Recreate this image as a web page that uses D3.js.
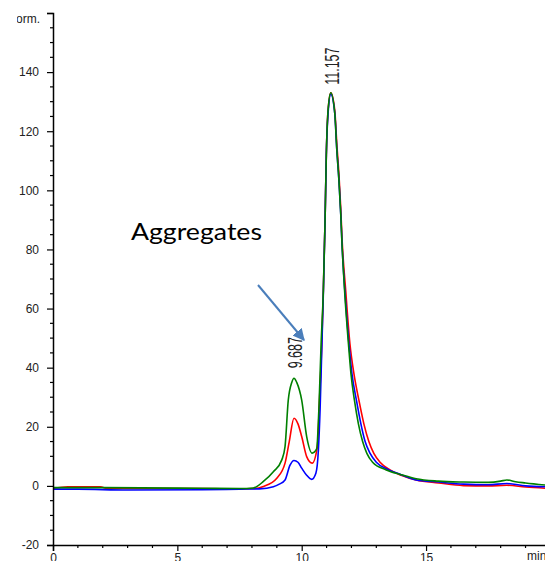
<!DOCTYPE html>
<html>
<head>
<meta charset="utf-8">
<script src="https://cdn.jsdelivr.net/npm/d3@7"></script>
<style>
  html, body { margin: 0; padding: 0; background: #fff; }
  svg { display: block; }
</style>
</head>
<body>
<svg id="chart" width="545" height="561"></svg>
<script>
// Retention time (min) and detector signal for each run
const blueTime = [0, 1.0, 3.0, 6.0, 7.5, 8.3, 8.86, 9.1, 9.33, 9.53, 9.69, 9.85, 10.0, 10.2, 10.4, 10.57, 10.67, 10.74, 10.80, 10.87, 10.94, 10.99, 11.06, 11.17, 11.33, 11.41, 11.50, 11.57, 11.62, 11.75, 11.90, 12.02, 12.20, 12.38, 12.55, 12.75, 13.0, 13.5, 14.0, 14.6, 15.5, 16.5, 17.5, 18.25, 19.0, 19.8];
const blueSignal = [-1.1, -1.1, -1.4, -1.3, -1.1, -1.0, -0.3, 0.6, 2.0, 7.0, 8.6, 8.0, 6.0, 3.6, 2.2, 4.3, 12, 26, 44, 65, 90, 112, 126, 132.5, 126, 114, 103, 92, 82, 64, 48, 38, 29, 21, 15, 11, 8.0, 5.4, 3.8, 2.0, 1.3, 0.6, 0.4, 0.8, 0.0, -0.3];

const redTime = [0, 0.6, 1.9, 2.2, 6.0, 7.5, 8.1, 8.46, 9.0, 9.33, 9.5, 9.69, 9.85, 10.0, 10.2, 10.42, 10.63, 10.72, 10.80, 10.87, 10.94, 10.99, 11.06, 11.17, 11.33, 11.41, 11.50, 11.57, 11.62, 11.77, 11.94, 12.10, 12.30, 12.50, 12.70, 12.90, 13.15, 13.55, 14.0, 14.6, 15.5, 16.5, 17.5, 18.25, 19.0, 19.8];
const redSignal = [-0.9, -0.3, -0.3, -0.9, -0.9, -1.0, -0.9, -0.2, 2.6, 7.7, 15, 22.9, 21, 16.7, 9.9, 7.7, 13.3, 30, 46, 66, 90, 112, 127, 133, 127, 116, 105, 94, 84, 66, 48, 38, 29, 21, 15, 11, 8.0, 5.4, 3.6, 2.0, 1.0, 0.1, 0.0, 0.2, -0.4, -0.8];

const greenTime = [0, 2.0, 6.0, 7.5, 8.05, 8.46, 8.86, 9.2, 9.33, 9.46, 9.6, 9.69, 9.8, 10.0, 10.2, 10.42, 10.6, 10.70, 10.78, 10.87, 10.94, 10.99, 11.06, 11.17, 11.33, 11.41, 11.50, 11.57, 11.62, 11.74, 11.88, 11.98, 12.12, 12.28, 12.45, 12.62, 12.85, 13.4, 14.0, 14.6, 15.5, 16.5, 17.5, 18.0, 18.25, 18.6, 19.0, 19.8];
const greenSignal = [-0.6, -0.6, -0.8, -0.9, -0.7, 1.5, 4.8, 8.8, 13.3, 29, 35, 36.4, 35, 29, 16.7, 11.1, 12.5, 28, 48, 66, 90, 112, 127, 133, 126, 114, 103, 92, 82, 64, 48, 38, 29, 21, 15, 11, 8.0, 5.4, 3.8, 2.4, 1.6, 1.3, 1.2, 1.6, 2.0, 1.4, 1.0, 0.3];

// Peak retention times labelled above the peaks
const peakLabels = ["9.687", "11.157"];
const peakTimes = [9.687, 11.157];
const peakHeights = [36.4, 133];

const xMajorTicks = [0, 5, 10, 15];
const yMajorTicks = [-20, 0, 20, 40, 60, 80, 100, 120, 140, 160];

const svg = d3.select("#chart");
const x = d3.scaleLinear().domain([0, 20]).range([53, 550.4]);
const y = d3.scaleLinear().domain([-20, 160]).range([545, 13]);

const axisFont = "'Liberation Sans', Arial, sans-serif";

svg.append("clipPath").attr("id", "plot")
  .append("rect").attr("x", 53).attr("y", 0).attr("width", 492).attr("height", 545);

// Traces
const line = d3.line()
  .x(d => x(d[0]))
  .y(d => y(d[1]))
  .curve(d3.curveMonotoneX);

const traces = [
  { color: "#ff0000", t: redTime, v: redSignal },
  { color: "#0000ff", t: blueTime, v: blueSignal },
  { color: "#008000", t: greenTime, v: greenSignal }
];

const g = svg.append("g").attr("clip-path", "url(#plot)");
traces.forEach(s => {
  g.append("path")
    .datum(d3.zip(s.t, s.v))
    .attr("fill", "none")
    .attr("stroke", s.color)
    .attr("stroke-width", 1.6)
    .attr("d", line);
});

// Y axis
const yAxis = d3.axisLeft(y)
  .tickValues(yMajorTicks)
  .tickSize(6)
  .tickPadding(8)
  .tickFormat(d => d === 160 ? "" : d);
const yg = svg.append("g").attr("transform", "translate(53,0)").call(yAxis);
yg.select(".domain").attr("stroke", "#000").attr("stroke-width", 1.5);
yg.selectAll("line").attr("stroke", "#000").attr("stroke-width", 1.2);
yg.selectAll("text").attr("font-family", axisFont).attr("font-size", 12).attr("fill", "#222");

const yMinor = d3.range(-15, 160, 5).filter(v => v % 20 !== 0);
svg.append("g").selectAll("line").data(yMinor).join("line")
  .attr("x1", 50).attr("x2", 53)
  .attr("y1", d => y(d)).attr("y2", d => y(d))
  .attr("stroke", "#000").attr("stroke-width", 1.2);

// X axis
const xAxis = d3.axisBottom(x)
  .tickValues(xMajorTicks)
  .tickSize(6)
  .tickPadding(2);
const xg = svg.append("g").attr("transform", "translate(0,545)").call(xAxis);
xg.select(".domain").attr("stroke", "#000").attr("stroke-width", 1.5);
xg.selectAll("line").attr("stroke", "#000").attr("stroke-width", 1.2);
xg.selectAll("text").attr("font-family", axisFont).attr("font-size", 12).attr("fill", "#222");

const xMinor = d3.range(1, 20, 1).filter(v => v % 5 !== 0);
svg.append("g").selectAll("line").data(xMinor).join("line")
  .attr("x1", d => x(d)).attr("x2", d => x(d))
  .attr("y1", 545).attr("y2", 548)
  .attr("stroke", "#000").attr("stroke-width", 1.2);

// Axis unit labels
svg.append("clipPath").attr("id", "ylab")
  .append("rect").attr("x", 17).attr("y", 0).attr("width", 36).attr("height", 30);
svg.append("text")
  .attr("clip-path", "url(#ylab)")
  .attr("x", 40).attr("y", 23)
  .attr("text-anchor", "end")
  .attr("font-family", axisFont).attr("font-size", 12).attr("fill", "#222")
  .text("Norm.");
svg.append("text")
  .attr("x", 527).attr("y", 560)
  .attr("font-family", axisFont).attr("font-size", 12).attr("fill", "#222")
  .text("min");

// Peak retention labels (vertical)
const labelGap = [10, 8];
peakLabels.forEach((lab, i) => {
  svg.append("text")
    .attr("transform", `translate(${x(peakTimes[i]) + 8.5},${y(peakHeights[i]) - labelGap[i]}) rotate(-90) scale(1,1.55)`)
    .attr("font-family", axisFont).attr("font-size", 12.5).attr("fill", "#222")
    .text(lab);
});

// Annotation
svg.append("text")
  .attr("x", 131).attr("y", 240)
  .attr("font-family", "Lato, 'Open Sans', sans-serif")
  .attr("font-size", 23).attr("fill", "#000")
  .attr("textLength", 131).attr("lengthAdjust", "spacingAndGlyphs")
  .text("Aggregates");

svg.append("defs").append("marker")
  .attr("id", "arrow")
  .attr("viewBox", "0 0 10 10")
  .attr("refX", 9).attr("refY", 5)
  .attr("markerWidth", 6).attr("markerHeight", 6)
  .attr("markerUnits", "strokeWidth")
  .attr("orient", "auto")
  .append("path").attr("d", "M0,0 L10,5 L0,10 Z").attr("fill", "#4a7ebb");

svg.append("line")
  .attr("x1", 258).attr("y1", 285)
  .attr("x2", 304).attr("y2", 340)
  .attr("stroke", "#4a7ebb").attr("stroke-width", 2)
  .attr("marker-end", "url(#arrow)");
</script>
</body>
</html>
